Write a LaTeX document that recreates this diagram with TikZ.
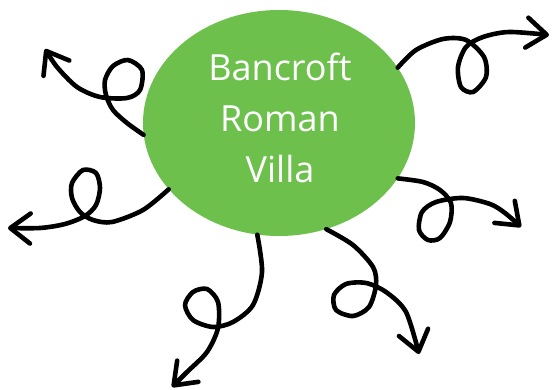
\documentclass[tikz,border=0pt]{standalone}
\usepackage{fontspec}
\setmainfont{Open Sans}
\usetikzlibrary{shapes.geometric,arrows.meta}
\definecolor{villagreen}{RGB}{108,192,75}
\tikzset{
    curly/.style={line width=4.6pt, line cap=round, line join=round,
        -{Straight Barb[length=20pt, width=30pt, round]}},
    blob/.style={ellipse, fill=villagreen, minimum width=272pt,
        minimum height=226pt, inner sep=0pt},
    title/.style={text=white, align=center,
        font=\fontsize{36}{51}\selectfont}
}
\begin{document}
\begin{tikzpicture}[x=1pt, y=-1pt]
    \useasboundingbox (0,0) rectangle (552,390);
    \node[blob] (villa) at (279,123) {};
    \node[title] (name) at (280,118) {Bancroft\\Roman\\Villa};
    % upper left
    \draw[curly] plot[smooth] coordinates {(villa.185) (127,123) (113,110)
        (106,95) (105,80) (113,66) (128,60) (142,70) (140,90) (127,98)
        (100,97) (77,87) (57,67) (45,49)};
    % upper right
    \draw[curly] plot[smooth] coordinates {(villa.25) (416,50) (443,39)
        (466,40) (484,57) (486,77) (473,92) (461,87) (458,67) (466,47)
        (483,37) (509,32) (549,35)};
    % left
    \draw[curly] plot[smooth] coordinates {(villa.211) (143,210) (112,222)
        (93,220) (80,212) (72,198) (72,183) (83,170) (96,173) (100,188)
        (96,205) (85,216) (65,224) (40,228) (8,228)};
    % bottom
    \draw[curly] plot[smooth] coordinates {(villa.259) (262,272) (253,305)
        (233,322) (213,327) (193,320) (185,305) (193,292) (207,289)
        (218,302) (218,328) (207,352) (187,372) (172,387)};
    % lower right
    \draw[curly] plot[smooth] coordinates {(villa.294) (353,245) (373,267)
        (376,285) (369,307) (353,316) (336,310) (334,295) (346,284)
        (366,283) (386,292) (406,312) (419,354)};
    % right
    \draw[curly] plot[smooth] coordinates {(villa.335) (423,182) (440,190)
        (451,203) (450,222) (440,238) (428,240) (419,230) (422,212)
        (436,202) (463,198) (490,204) (505,213) (521,227)};
\end{tikzpicture}
\end{document}
